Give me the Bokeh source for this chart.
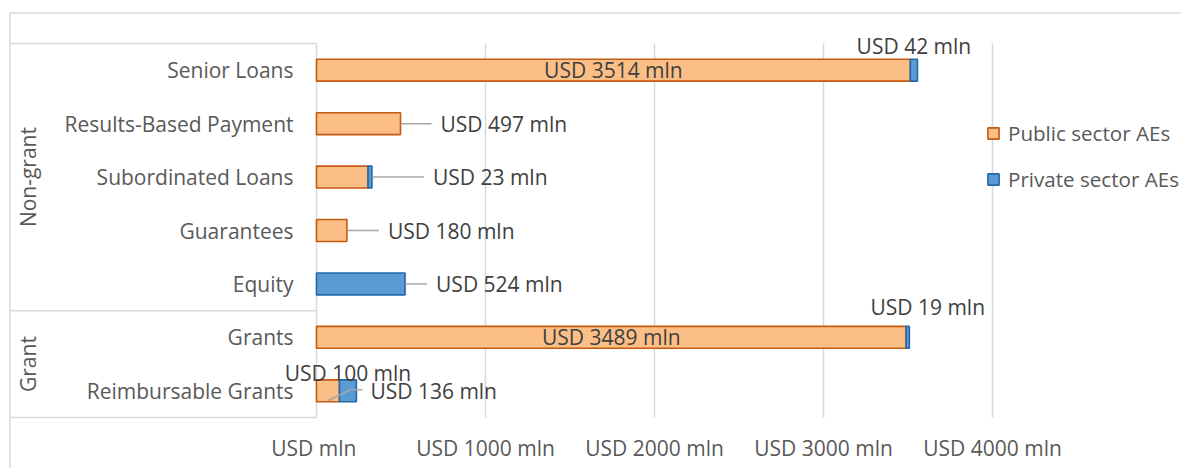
import math
from bokeh.plotting import figure
from bokeh.models import ColumnDataSource, Range1d, Legend, LegendItem
from bokeh.core.properties import value
from bokeh.embed import file_html
from bokeh.resources import INLINE

# ---------------- data ----------------
categories = ["Senior Loans", "Results-Based Payment", "Subordinated Loans",
              "Guarantees", "Equity", "Grants", "Reimbursable Grants"]
groups = ["Non-grant", "Non-grant", "Non-grant", "Non-grant", "Non-grant", "Grant", "Grant"]
public_sector = [3514, 497, 305, 180, 0, 3489, 136]
private_sector = [42, 0, 23, 0, 524, 19, 100]
public_labels = ["USD 3514 mln", "USD 497 mln", "", "USD 180 mln", "", "USD 3489 mln", "USD 136 mln"]
private_labels = ["USD 42 mln", "", "USD 23 mln", "", "USD 524 mln", "USD 19 mln", "USD 100 mln"]
series_names = ["Public sector AEs", "Private sector AEs"]
x_ticks = [0, 1000, 2000, 3000, 4000]
x_tick_labels = ["USD  mln", "USD 1000 mln", "USD 2000 mln", "USD 3000 mln", "USD 4000 mln"]

# ---------------- geometry / style ----------------
W, H = 1181, 468
PLOT_L, PLOT_T, PLOT_B = 316, 43, 417        # bar area in pixels
PX_PER_1000 = 169.0
n = len(categories)
xpp = 1000.0 / PX_PER_1000                   # data units per pixel (x)
ypp = n / float(PLOT_B - PLOT_T)             # category units per pixel (y)

def X(px):   # pixel column -> data x
    return (px - PLOT_L) * xpp

def Y(py):   # pixel row -> data y (rows counted from top)
    return (py - PLOT_T) * ypp

FONT = "Open Sans"
FS = "21px"
GRID = "#D9D9D9"
PUB_FILL, PUB_LINE = "#FBBF86", "#C55A11"
PRI_FILL, PRI_LINE = "#5B9BD5", "#2468A6"
LBL = "#404040"
AXL = "#595959"

p = figure(width=W, height=H, x_range=Range1d(X(0), X(W)), y_range=Range1d(Y(H), Y(0)),
           output_backend="svg", toolbar_location=None,
           x_axis_location=None, y_axis_location=None,
           min_border=0, outline_line_color=None,
           background_fill_color="white", border_fill_color="white")
p.xgrid.visible = False
p.ygrid.visible = False

def yc(i):
    return i + 0.5

# ---- chart area border and category table ----
bx, by = [], []
bx.append([X(9.5), X(9.5), X(W + 5)]); by.append([Y(H + 5), Y(12.5), Y(12.5)])
start = 0
group_spans = []
for g in ["Non-grant", "Grant"]:
    cnt = groups.count(g)
    group_spans.append((g, start, start + cnt))
    start += cnt
for y in sorted({0} | {e for _, s, e in group_spans}):
    bx.append([X(9.5), 0]); by.append([y, y])
p.multi_line(xs=bx, ys=by, line_color=GRID, line_width=1.5)

# ---- vertical grid lines (value axis) ----
p.segment(x0=x_ticks, x1=x_ticks, y0=[0] * len(x_ticks), y1=[n] * len(x_ticks),
          line_color=GRID, line_width=1.5)

# ---- bars ----
pub_right = list(public_sector)
pri_left = list(public_sector)
pri_right = [a + b for a, b in zip(public_sector, private_sector)]
ys = [yc(i) for i in range(n)]
src_pub = ColumnDataSource(dict(y=ys, left=[0] * n, right=pub_right,
                                la=[1 if v > 0 else 0 for v in public_sector]))
src_pri = ColumnDataSource(dict(y=ys, left=pri_left, right=pri_right,
                                la=[1 if v > 0 else 0 for v in private_sector]))
r_pub = p.hbar(y="y", left="left", right="right", height=0.41, source=src_pub,
               fill_color=PUB_FILL, line_color=PUB_LINE, line_width=1.6,
               line_alpha="la", fill_alpha="la")
r_pri = p.hbar(y="y", left="left", right="right", height=0.41, source=src_pri,
               fill_color=PRI_FILL, line_color=PRI_LINE, line_width=1.6,
               line_alpha="la", fill_alpha="la")

# ---- category labels (left axis) ----
p.text(x=[0] * n, y=ys, text=categories, x_offset=-23, text_align="right",
       text_baseline="middle", text_font=value(FONT), text_font_size=FS, text_color=AXL)

# ---- group labels (rotated) ----
p.text(x=[X(27)] * len(group_spans), y=[(s + e) / 2.0 for _, s, e in group_spans],
       text=[g for g, _, _ in group_spans], angle=math.pi / 2,
       text_align="center", text_baseline="middle",
       text_font=value(FONT), text_font_size=FS, text_color=AXL)

# ---- value-axis tick labels ----
p.text(x=x_ticks, y=[Y(447)] * len(x_ticks), text=x_tick_labels,
       text_align="center", text_baseline="middle",
       text_font=value(FONT), text_font_size=FS, text_color=AXL)

# ---- data labels ----  placement: (mode, dx_px, dy_px)
pub_place = {0: ("center", 0, 0), 1: ("right", 40, 0), 3: ("right", 41, 0),
             5: ("center", 0, 0), 6: ("right", 14, 0)}
pri_place = {0: ("center", 0, -24), 2: ("right", 61, 0), 4: ("right", 31, 0),
             5: ("center", 20, -30), 6: ("center", 0, -18)}
leader_len = {("pub", 1): 31, ("pub", 3): 32, ("pri", 2): 52, ("pri", 4): 22}

tx, ty, tt, tal = [], [], [], []
for i in range(n):
    for place, labels, lo, hi in ((pub_place, public_labels, 0, pub_right[i]),
                                  (pri_place, private_labels, pri_left[i], pri_right[i])):
        if i not in place or not labels[i]:
            continue
        mode, dx, dy = place[i]
        tt.append(labels[i])
        ty.append(yc(i) + dy * ypp)
        if mode == "center":
            tx.append((lo + hi) / 2.0 + dx * xpp); tal.append("center")
        else:
            tx.append(pri_right[i] + dx * xpp); tal.append("left")
p.text(x="x", y="y", text="t", text_align="al",
       source=ColumnDataSource(dict(x=tx, y=ty, t=tt, al=tal)),
       text_baseline="middle", text_font=value(FONT), text_font_size=FS, text_color=LBL)

# ---- leader lines ----
lxs, lys = [], []
for (kind, i), L in leader_len.items():
    x0 = pri_right[i]
    lxs.append([x0, x0 + L * xpp]); lys.append([yc(i), yc(i)])
i = 6
x0 = public_sector[i] / 2.0
lxs.append([x0, pri_right[i] - 6 * xpp, pri_right[i] + 6 * xpp])
lys.append([yc(i) + 10 * ypp, yc(i) - 1 * ypp, yc(i) - 1 * ypp])
p.multi_line(xs=lxs, ys=lys, line_color="#A6A6A6", line_width=1.5)

# ---- legend ----
legend = Legend(items=[LegendItem(label=series_names[0], renderers=[r_pub]),
                       LegendItem(label=series_names[1], renderers=[r_pri])],
                location=(986, 275), orientation="vertical",
                glyph_width=14, glyph_height=14, label_standoff=8, spacing=18, padding=0,
                margin=0, border_line_color=None, background_fill_alpha=0,
                label_text_font=FONT, label_text_font_size="20.6px", label_text_color=AXL)
p.add_layout(legend)

open("out.html", "w").write(file_html(p, INLINE))
